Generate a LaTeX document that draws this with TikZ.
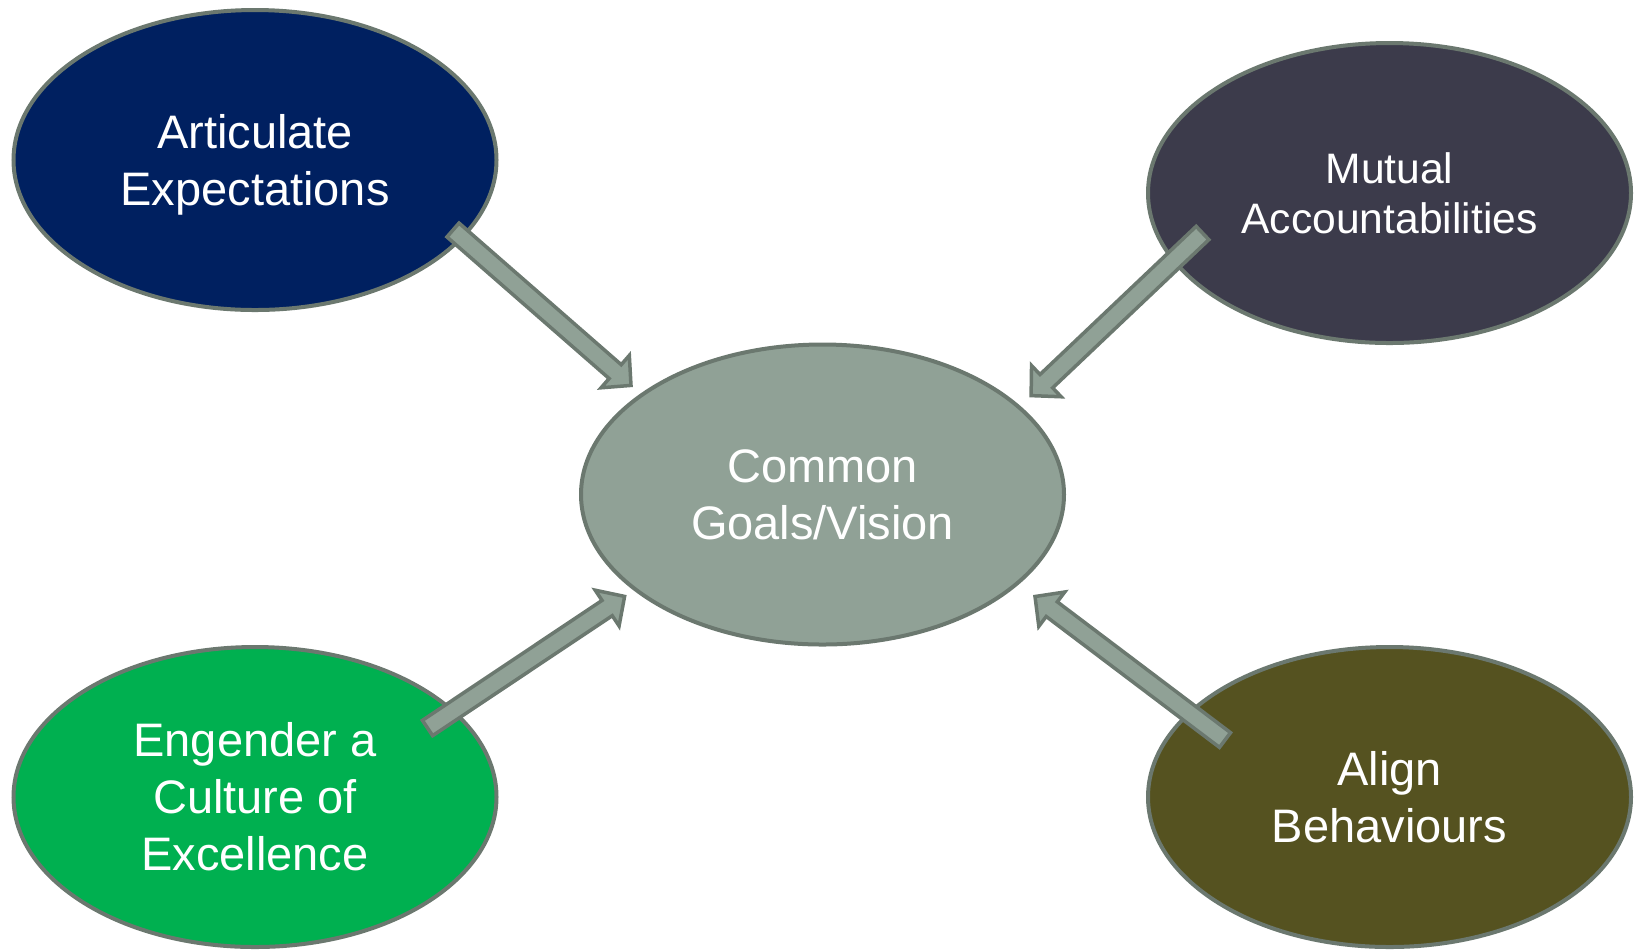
\documentclass[tikz,border=0pt]{standalone}
\usepackage{fontspec}
\setmainfont{Liberation Sans}
\usetikzlibrary{shapes.geometric,calc}

\definecolor{navyfill}{HTML}{002060}
\definecolor{slatefill}{HTML}{3C3B4B}
\definecolor{sagefill}{HTML}{90A196}
\definecolor{greenfill}{HTML}{00B050}
\definecolor{olivefill}{HTML}{555220}
\definecolor{edgegray}{HTML}{6B786F}

\begin{document}
\begin{tikzpicture}[x=0.5pt,y=-0.5pt,
    main/.style = {ellipse, draw=edgegray, line width=2pt, inner sep=0pt,
      minimum width=241.5pt, minimum height=150pt, text=white, align=center,
      font=\fontsize{23.5}{28.5}\selectfont},
    blockarrow/.style = {draw=edgegray, fill=sagefill, line width=1.75pt, line join=miter,
      to path={($(\tikztostart)!4.6pt!90:(\tikztotarget)$)
        -- ($(\tikztotarget)!11.46pt!-23.66:(\tikztostart)$)
        -- ($(\tikztotarget)!15.03pt!-45.67:(\tikztostart)$)
        -- (\tikztotarget)
        -- ($(\tikztotarget)!15.03pt!45.67:(\tikztostart)$)
        -- ($(\tikztotarget)!11.46pt!23.66:(\tikztostart)$)
        -- ($(\tikztostart)!4.6pt!-90:(\tikztotarget)$) -- cycle}}]
            \useasboundingbox (0,0) rectangle (1638,950);

            \node[main, fill=sagefill](goal) at (822.5,494.5){Common\\Goals/Vision};
            \node[main, fill=navyfill, text depth=0pt](expect) at (255,160){Articulate\\Expectations};
            \node[main, fill=slatefill, font=\fontsize{21.3}{25}\selectfont](mutual) at (1389.5,193){Mutual\\Accountabilities};
            \node[main, fill=greenfill](culture) at (255,797){Engender a\\Culture of\\Excellence};
            \node[main, fill=olivefill](align) at (1389.5,797){Align\\Behaviours};

            \coordinate (t1) at (453,230);   \coordinate (h1) at (631,385.4);
            \coordinate (t2) at (1202.5,233); \coordinate (h2) at (1031.1,395.6);
            \coordinate (t3) at (427.5,728);  \coordinate (h3) at (624.6,596.4);
            \coordinate (t4) at (1225,740);   \coordinate (h4) at (1035,596.5);

            \draw[blockarrow] (t1) to (h1);
            \draw[blockarrow] (t2) to (h2);
            \draw[blockarrow] (t3) to (h3);
            \draw[blockarrow] (t4) to (h4);
        \end{tikzpicture}
\end{document}
